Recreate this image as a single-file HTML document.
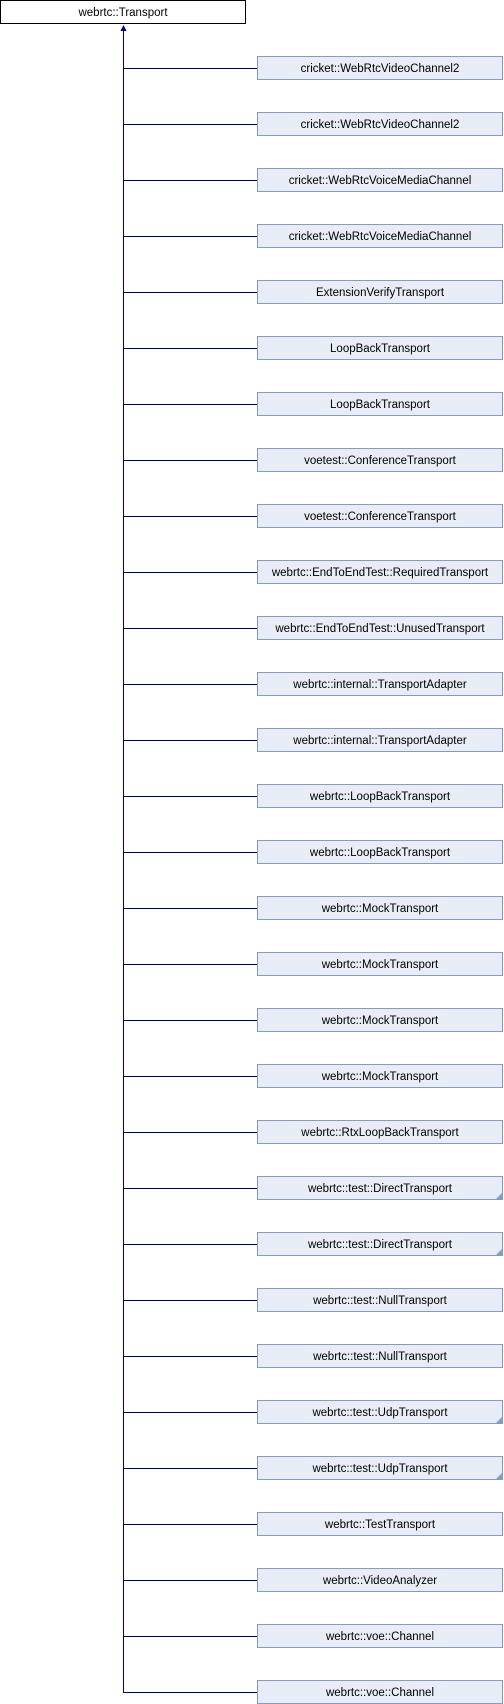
<!DOCTYPE html>
<html><head><meta charset="utf-8"><style>
html,body{margin:0;padding:0;background:#fff;width:504px;height:1704px;overflow:hidden}
svg{display:block}
text{font-family:"Liberation Sans",Helvetica,Arial,sans-serif;font-size:11.5px;fill:#000}
</style></head><body>
<svg id="s" width="504" height="1704" viewBox="0 0 504 1704" xmlns="http://www.w3.org/2000/svg">
<rect x="0.5" y="0.5" width="245" height="23" fill="#fff" stroke="#000"/>
<text x="123" y="16" text-anchor="middle">webrtc::Transport</text>
<line x1="123.5" y1="30" x2="123.5" y2="1692.5" stroke="#000080" stroke-width="1"/>
<polygon points="123.5,25 120.5,31 126.5,31" fill="#000080"/>
<g id="g"></g>
</svg>
<script>
var names=["cricket::WebRtcVideoChannel2","cricket::WebRtcVideoChannel2","cricket::WebRtcVoiceMediaChannel","cricket::WebRtcVoiceMediaChannel","ExtensionVerifyTransport","LoopBackTransport","LoopBackTransport","voetest::ConferenceTransport","voetest::ConferenceTransport","webrtc::EndToEndTest::RequiredTransport","webrtc::EndToEndTest::UnusedTransport","webrtc::internal::TransportAdapter","webrtc::internal::TransportAdapter","webrtc::LoopBackTransport","webrtc::LoopBackTransport","webrtc::MockTransport","webrtc::MockTransport","webrtc::MockTransport","webrtc::MockTransport","webrtc::RtxLoopBackTransport","webrtc::test::DirectTransport","webrtc::test::DirectTransport","webrtc::test::NullTransport","webrtc::test::NullTransport","webrtc::test::UdpTransport","webrtc::test::UdpTransport","webrtc::TestTransport","webrtc::VideoAnalyzer","webrtc::voe::Channel","webrtc::voe::Channel"];
var tri={20:1,21:1,24:1,25:1};
var h="";
for(var i=0;i<names.length;i++){
 var y=56+i*56;
 h+='<line x1="123" y1="'+(y+12.5)+'" x2="257" y2="'+(y+12.5)+'" stroke="#000080"/>';
 h+='<rect x="257.5" y="'+(y+0.5)+'" width="245" height="23" fill="#e8ecf5" stroke="#8499cc"/>';
 h+='<text x="380" y="'+(y+16)+'" text-anchor="middle">'+names[i]+'</text>';
 if(tri[i]) h+='<polygon points="502,'+(y+17)+' 502,'+(y+23)+' 496,'+(y+23)+'" fill="#8499cc"/>';
}
document.getElementById("g").innerHTML=h;
</script>
</body></html>
